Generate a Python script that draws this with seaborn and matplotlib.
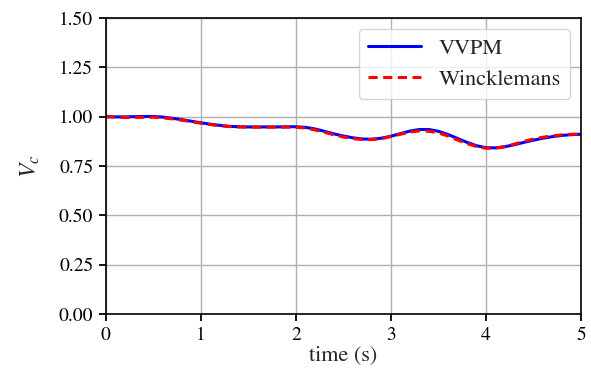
import matplotlib
matplotlib.use("Agg")
import matplotlib.pyplot as plt
import seaborn as sns
import pandas as pd
import numpy as np

time = [0.0, 0.1, 0.2, 0.3, 0.4, 0.5, 0.6, 0.7, 0.8, 0.9,
        1.0, 1.1, 1.2, 1.3, 1.4, 1.5, 1.6, 1.7, 1.8, 1.9,
        2.0, 2.1, 2.2, 2.3, 2.4, 2.5, 2.6, 2.7, 2.8, 2.9,
        3.0, 3.1, 3.2, 3.3, 3.4, 3.5, 3.6, 3.7, 3.8, 3.9,
        4.0, 4.1, 4.2, 4.3, 4.4, 4.5, 4.6, 4.7, 4.8, 4.9, 5.0]
vvpm = [1.000, 0.999, 0.999, 1.000, 1.001, 1.001, 0.998, 0.992, 0.985, 0.977,
        0.969, 0.962, 0.956, 0.951, 0.949, 0.948, 0.948, 0.948, 0.948, 0.949,
        0.949, 0.946, 0.938, 0.926, 0.913, 0.902, 0.893, 0.887, 0.886, 0.891,
        0.901, 0.914, 0.927, 0.935, 0.935, 0.926, 0.910, 0.890, 0.870, 0.853,
        0.843, 0.842, 0.848, 0.858, 0.870, 0.881, 0.891, 0.899, 0.905, 0.909, 0.911]
winck = [1.000, 0.998, 0.996, 0.996, 0.997, 0.997, 0.994, 0.989, 0.982, 0.975,
         0.967, 0.960, 0.954, 0.950, 0.948, 0.947, 0.947, 0.947, 0.947, 0.947,
         0.946, 0.943, 0.933, 0.921, 0.908, 0.897, 0.889, 0.884, 0.884, 0.889,
         0.899, 0.911, 0.922, 0.928, 0.926, 0.918, 0.902, 0.882, 0.864, 0.849,
         0.840, 0.840, 0.848, 0.861, 0.875, 0.887, 0.896, 0.903, 0.908, 0.911, 0.912]

sns.set_style("whitegrid")
plt.rcParams['font.family'] = ['STIXGeneral', 'Liberation Serif', 'DejaVu Serif']
plt.rcParams['mathtext.fontset'] = 'stix'

df = pd.DataFrame({"t": time * 2, "v": vvpm + winck,
                   "model": ["VVPM"] * len(time) + ["Wincklemans"] * len(time)})

fig = plt.figure(figsize=(5.91, 3.83), dpi=100)
ax = fig.add_axes([0.179, 0.180, 0.804, 0.773])
sns.lineplot(data=df, x="t", y="v", hue="model", style="model",
             palette={"VVPM": "blue", "Wincklemans": "red"},
             dashes={"VVPM": "", "Wincklemans": (3, 1.8)},
             linewidth=2.2, ax=ax)

ax.set_xlim(0, 5)
ax.set_ylim(0, 1.5)
ax.set_xticks([0, 1, 2, 3, 4, 5])
ax.set_yticks([0, 0.25, 0.5, 0.75, 1.0, 1.25, 1.5])
ax.set_yticklabels(["0.00", "0.25", "0.50", "0.75", "1.00", "1.25", "1.50"])
ax.grid(True, color="#b0b0b0", linewidth=1.0)
for s in ax.spines.values():
    s.set_color("black")
    s.set_linewidth(1.2)
ax.tick_params(axis="both", labelsize=14, colors="black", length=5, width=1.3, direction="out",
               bottom=True, left=True, pad=4)
ax.set_xlabel("time (s)", fontsize=16, labelpad=1)
ax.set_ylabel(r"$V_c$", fontsize=17, labelpad=12)
ax.legend(loc="upper right", fontsize=16, frameon=True, fancybox=True,
          framealpha=0.8, edgecolor="#cccccc", title=None, handlelength=2.4,
          borderaxespad=0.5)

fig.savefig("out.png", dpi=100)
